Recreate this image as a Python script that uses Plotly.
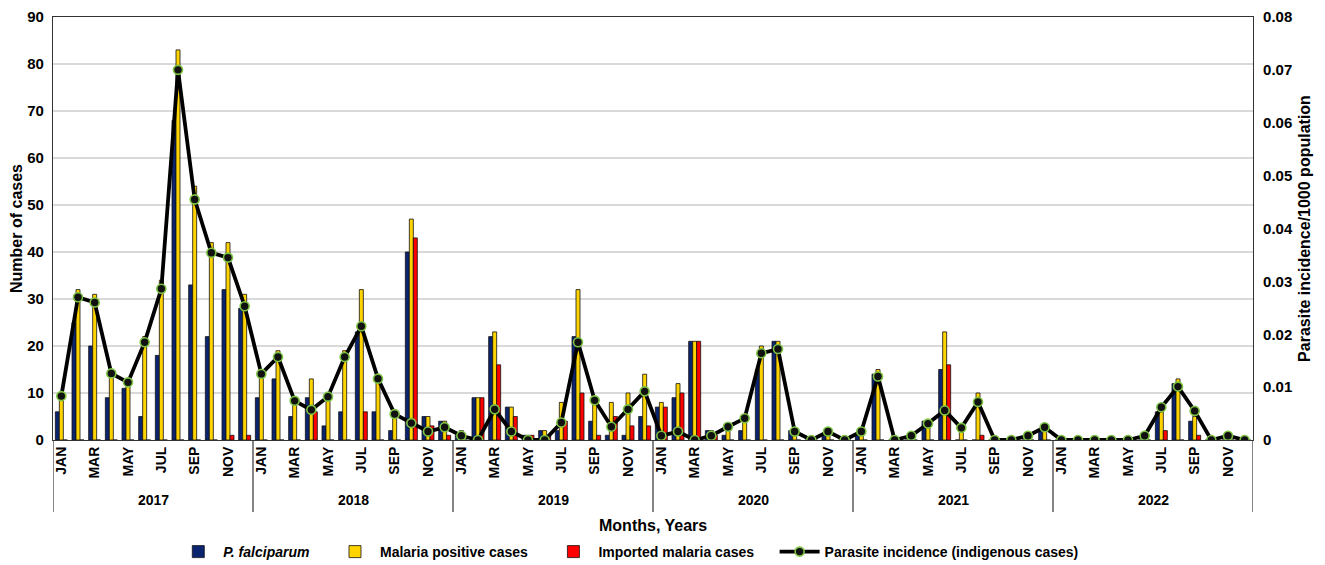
import plotly.graph_objects as go

months = ["JAN", "FEB", "MAR", "APR", "MAY", "JUN", "JUL", "AUG", "SEP", "OCT", "NOV", "DEC"]
years = ["2017", "2018", "2019", "2020", "2021", "2022"]

p_falciparum = [6, 25, 20, 9, 11, 5, 18, 68, 33, 22, 32, 28,
                9, 13, 5, 9, 3, 6, 23, 6, 2, 40, 5, 4,
                1, 9, 22, 7, 1, 2, 2, 22, 4, 1, 1, 5,
                7, 9, 21, 2, 1, 2, 15, 21, 2, 0, 1, 0,
                1, 14, 0, 0, 4, 15, 0, 0, 0, 0, 0, 2,
                0, 0, 0, 0, 0, 0, 6, 12, 4, 0, 0, 0]
malaria_positive = [9, 32, 31, 14, 12, 22, 34, 83, 54, 42, 42, 31,
                    15, 19, 8, 13, 9, 19, 32, 13, 5, 47, 5, 4,
                    2, 9, 23, 7, 1, 2, 8, 32, 9, 8, 10, 14,
                    8, 12, 21, 2, 2, 4, 20, 21, 2, 0, 2, 0,
                    2, 15, 0, 0, 4, 23, 2, 10, 0, 0, 1, 2,
                    0, 0, 0, 0, 0, 0, 6, 13, 5, 0, 1, 0]
imported = [0, 0, 0, 0, 0, 0, 0, 0, 0, 0, 1, 1,
            0, 0, 0, 6, 0, 0, 6, 0, 0, 43, 3, 1,
            0, 9, 16, 5, 1, 1, 4, 10, 1, 5, 3, 3,
            7, 10, 21, 1, 0, 0, 0, 0, 0, 0, 0, 0,
            0, 0, 0, 0, 0, 16, 0, 1, 0, 0, 0, 0,
            0, 0, 0, 0, 0, 0, 2, 0, 1, 0, 0, 0]
parasite_incidence = [0.0083, 0.027, 0.026, 0.0126, 0.0109, 0.0185, 0.0286, 0.070, 0.0455, 0.0354, 0.0345, 0.0253,
                      0.0125, 0.0157, 0.0074, 0.0057, 0.0082, 0.0157, 0.0215, 0.0116, 0.0049, 0.0032, 0.0016, 0.0024,
                      0.0008, 0.0, 0.0058, 0.0016, 0.0, 0.0, 0.0033, 0.0185, 0.0075, 0.0025, 0.0058, 0.0092,
                      0.0008, 0.0016, 0.0, 0.0008, 0.0025, 0.0041, 0.0164, 0.0172, 0.0016, 0.0, 0.0016, 0.0,
                      0.0016, 0.012, 0.0, 0.0008, 0.0031, 0.0056, 0.0023, 0.0072, 0.0, 0.0, 0.0008, 0.0024,
                      0.0, 0.0, 0.0, 0.0, 0.0, 0.0008, 0.0062, 0.0101, 0.0055, 0.0, 0.0008, 0.0]

n = len(years) * len(months)
x = list(range(n))
FONT = "Arial, Liberation Sans, sans-serif"
PAD = "\u00a0" * 4

fig = go.Figure()
fig.add_trace(go.Bar(x=x, y=p_falciparum, name="<i>P. falciparum</i>" + PAD,
                     marker=dict(color="#0b2470", line=dict(color="#111111", width=0.8))))
fig.add_trace(go.Bar(x=x, y=malaria_positive, name="Malaria positive cases" + PAD,
                     marker=dict(color="#ffd400", line=dict(color="#111111", width=0.8))))
fig.add_trace(go.Bar(x=x, y=imported, name="Imported malaria cases" + PAD,
                     marker=dict(color="#ff0000", line=dict(color="#111111", width=0.8))))
fig.add_trace(go.Scatter(x=x, y=parasite_incidence, name="Parasite incidence (indigenous cases)",
                         yaxis="y2", mode="lines+markers",
                         line=dict(color="black", width=3.8),
                         marker=dict(color="#111111", size=9,
                                     line=dict(color="#7dc243", width=1.6))))

tickvals = [i for i in x if i % 2 == 0]
ticktext = [months[i % 12] for i in tickvals]

shapes = []
for k in range(len(years) + 1):
    shapes.append(dict(type="line", xref="x", yref="paper", x0=k * 12 - 0.5, x1=k * 12 - 0.5,
                       y0=0, y1=-0.17, line=dict(color="#333333", width=1.2)))
annotations = []
for k, yr in enumerate(years):
    annotations.append(dict(x=k * 12 + 5.5, y=0, xref="x", yref="paper", yshift=-60, yanchor="middle",
                            text="<b>%s</b>" % yr, showarrow=False,
                            font=dict(family=FONT, size=14, color="black")))
annotations.append(dict(x=0.5, y=0, xref="paper", yref="paper", yshift=-85, yanchor="middle",
                        text="<b>Months, Years</b>", showarrow=False,
                        font=dict(family=FONT, size=16, color="black")))

fig.update_layout(
    width=1317, height=557,
    margin=dict(l=45, r=72, t=9, b=125, autoexpand=False),
    paper_bgcolor="white", plot_bgcolor="white",
    barmode="group", bargap=0.28, bargroupgap=0,
    font=dict(family=FONT, color="black"),
    shapes=shapes, annotations=annotations,
    legend=dict(orientation="h", x=0.471, xanchor="center", xref="container",
                y=0.0233, yanchor="middle", yref="container",
                font=dict(family=FONT, size=14, color="black", weight="bold"),
                bgcolor="rgba(0,0,0,0)",
                traceorder="normal", itemwidth=40),
    xaxis=dict(range=[-0.5, n - 0.5], tickmode="array", tickvals=tickvals, ticktext=ticktext,
               tickangle=-90, tickfont=dict(family=FONT, size=14, color="black", weight="bold"),
               showline=True, linecolor="#333333", linewidth=1.2, mirror=True, automargin=False,
               showgrid=False, ticks="", zeroline=False),
    yaxis=dict(range=[0, 90], dtick=10, showgrid=True, gridcolor="#d9d9d9", gridwidth=1.5,
               showline=True, linecolor="#333333", linewidth=1.2, zeroline=False, automargin=False,
               ticklabeloverflow="allow", ticklabelstandoff=5,
               tickfont=dict(family=FONT, size=15, color="black", weight="bold"),
               title=dict(text="<b>Number of cases</b>", font=dict(family=FONT, size=16), standoff=3)),
    yaxis2=dict(range=[0, 0.08], dtick=0.01, overlaying="y", side="right", showgrid=False,
                showline=True, linecolor="#333333", linewidth=1.2, zeroline=False, automargin=False,
                ticklabeloverflow="allow", ticklabelstandoff=6,
                tickfont=dict(family=FONT, size=15, color="black", weight="bold"),
                title=dict(text="<b>Parasite incidence/1000 population</b>",
                           font=dict(family=FONT, size=16), standoff=6)),
)

fig.write_html("out.html")
